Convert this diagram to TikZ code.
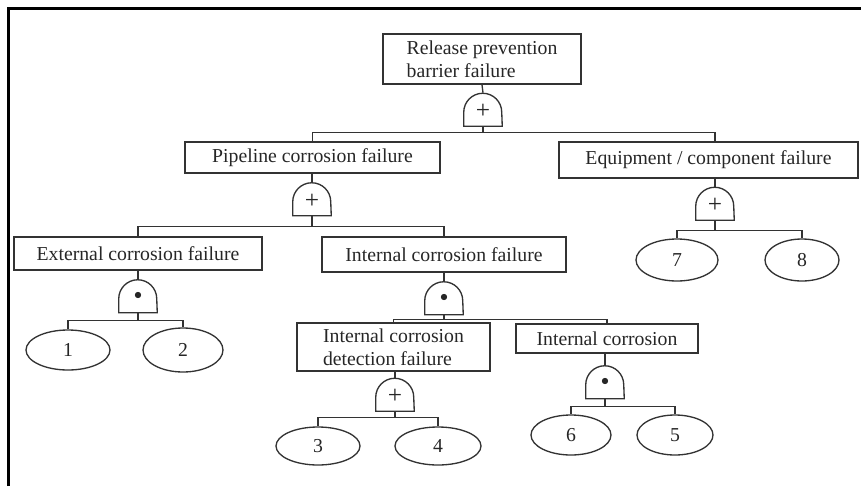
\documentclass[tikz,border=0pt]{standalone}
\usepackage{fontspec}
\setmainfont{Liberation Serif}
\usetikzlibrary{shapes.geometric}

\newcommand{\andsym}{{\fontsize{13}{13}\selectfont$\bullet$}}

\begin{document}
\begin{tikzpicture}[x=0.75pt, y=-0.75pt,
    every node/.append style={font=\fontsize{14.8}{17}\selectfont, text=black!85},
    wire/.style={draw=black!80, line width=1pt},
    event/.style 2 args={draw=black!80, line width=1pt, inner sep=0pt, minimum width=#1, minimum height=#2},
    basicev/.style 2 args={ellipse, draw=black!80, line width=1pt, inner sep=0pt, minimum width=#1, minimum height=#2},
    gate/.style={minimum width=28.5pt, minimum height=24.75pt, inner sep=0pt, font=\fontsize{19}{19}\selectfont,
        append after command={\pgfextra{\draw[wire] (\tikzlastnode.south west) -- ++(0,10.5pt)
            arc[start angle=180, end angle=0, x radius=14.25pt, y radius=14.25pt]
            -- (\tikzlastnode.south east) -- cycle;}}},
    orgate/.style={gate, text height=14pt, text depth=0pt}
]

    \useasboundingbox (0,0) rectangle (861,486);

    % frame of the figure (only top and left edges are visible)
    \draw[line width=2.25pt]
        (8,486) -- (8,8) -- (861,8)
    ;

    % events
    \node[event={148.5pt}{37.5pt}, align=left] (top) at (482,59) {Release prevention\\barrier failure};
    \node[event={191.25pt}{23.25pt}] (pipe) at (312.5,157.5) {Pipeline corrosion failure};
    \node[event={224.25pt}{27pt}] (equip) at (708.5,160) {Equipment / component failure};
    \node[event={186pt}{24.75pt}] (ext) at (138,253.5) {External corrosion failure};
    \node[event={183pt}{26.25pt}] (int) at (444,254.5) {Internal corrosion failure};
    \node[event={144.75pt}{36pt}, align=left] (det) at (393.5,347) {Internal corrosion\\detection failure};
    \node[event={136.5pt}{21.75pt}] (intc) at (607,338.5) {Internal corrosion};

    % gates: + is OR, dot is AND
    \node[orgate] (g1) at (483,109.5) {+};
    \node[orgate] (g2) at (312,199) {+};
    \node[orgate] (g3) at (715,203.5) {+};
    \node[gate] (g4) at (138,296) {\andsym};
    \node[gate] (g5) at (444,298) {\andsym};
    \node[orgate] (g6) at (395,394.5) {+};
    \node[gate] (g7) at (605,382) {\andsym};

    % basic events
    \node[basicev={63pt}{30pt}] (b1) at (68,350) {1};
    \node[basicev={60pt}{33pt}] (b2) at (183,350) {2};
    \node[basicev={63pt}{28.5pt}] (b3) at (318,446) {3};
    \node[basicev={64.5pt}{28.5pt}] (b4) at (438,446) {4};
    \node[basicev={57pt}{30pt}] (b5) at (675,435) {5};
    \node[basicev={60pt}{30pt}] (b6) at (571,435) {6};
    \node[basicev={61.5pt}{31.5pt}] (b7) at (677,260) {7};
    \node[basicev={55.5pt}{31.5pt}] (b8) at (802,260) {8};

    % event to gate
    \draw[wire] (top.south) -- (g1.north);
    \draw[wire] (pipe.south -| g2.north) -- (g2.north);
    \draw[wire] (equip.south -| g3.north) -- (g3.north);
    \draw[wire] (ext.south) -- (g4.north);
    \draw[wire] (int.south) -- (g5.north);
    \draw[wire] (det.south -| g6.north) -- (g6.north);
    \draw[wire] (intc.south -| g7.north) -- (g7.north);

    % gate to inputs
    \draw[wire]
        (g1.south) -- ++(0,6) -| (pipe.north)
        (g1.south) -- ++(0,6) -| (equip.north -| g3.north)
        (g2.south) -- ++(0,11) -| (ext.north)
        (g2.south) -- ++(0,11) -| (int.north)
        (g3.south) -- ++(0,10) -| (b7.north)
        (g3.south) -- ++(0,10) -| (b8.north)
        (g4.south) -- ++(0,8) -| (b1.north)
        (g4.south) -- ++(0,8) -| (b2.north)
        (g5.south) -- ++(0,5) -| (det.north)
        (g5.south) -- ++(0,5) -| (intc.north)
        (g6.south) -- ++(0,6) -| (b3.north)
        (g6.south) -- ++(0,6) -| (b4.north)
        (g7.south) -- ++(0,8) -| (b6.north)
        (g7.south) -- ++(0,8) -| (b5.north)
    ;

\end{tikzpicture}
\end{document}
